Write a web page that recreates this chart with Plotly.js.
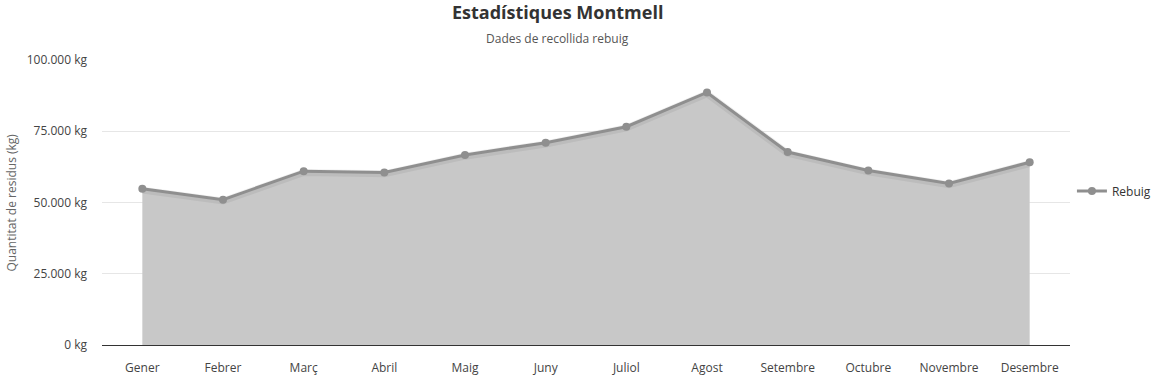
<!DOCTYPE html>
<html>
<head>
<meta charset="utf-8">
<script src="https://cdn.plot.ly/plotly-3.0.1.min.js"></script>
<style>html,body{margin:0;padding:0;background:#fff;}#chart{width:1158px;height:376px;}</style>
</head>
<body>
<div id="chart"></div>
<script>
const months = ["Gener","Febrer","Març","Abril","Maig","Juny","Juliol","Agost","Setembre","Octubre","Novembre","Desembre"];
const rebuig = [54800, 51000, 61000, 60500, 66700, 71000, 76600, 88600, 67700, 61200, 56700, 64100];
const yTickVals = [0, 25000, 50000, 75000, 100000];
const yTickText = ["0 kg", "25.000 kg", "50.000 kg", "75.000 kg", "100.000 kg"];

const font = "'Open Sans', 'Noto Sans', sans-serif";

const area = {
  x: months, y: rebuig, type: 'scatter', mode: 'none',
  fill: 'tozeroy', fillcolor: 'rgba(200,200,200,1)', hoverinfo: 'skip', showlegend: false
};
const shadow = {
  x: months, y: rebuig.map(v => v - 450), type: 'scatter', mode: 'lines',
  line: {color: 'rgba(0,0,0,0.06)', width: 7}, hoverinfo: 'skip', showlegend: false
};
const main = {
  x: months, y: rebuig, type: 'scatter', mode: 'lines+markers', name: 'Rebuig',
  line: {color: '#8f8f8f', width: 3},
  marker: {color: '#8f8f8f', size: 8}
};

const layout = {
  width: 1158, height: 376,
  margin: {l: 102, r: 88, t: 60, b: 31, autoexpand: false},
  paper_bgcolor: '#fff', plot_bgcolor: '#fff',
  font: {family: font, size: 12, color: '#444'},
  showlegend: true,
  legend: {x: 1.002, xanchor: 'left', y: 0.54, yanchor: 'middle', font: {size: 12, color: '#333'}, bgcolor: 'rgba(0,0,0,0)', itemwidth: 30},
  xaxis: {
    type: 'category', range: [-0.5, 11.5], showgrid: false, zeroline: false,
    showline: false, ticks: '', ticklabelstandoff: 14, tickfont: {size: 12, color: '#444'}, fixedrange: true
  },
  yaxis: {
    range: [0, 100000], tickvals: yTickVals, ticktext: yTickText,
    showgrid: true, gridcolor: '#e6e6e6', gridwidth: 1,
    zeroline: true, zerolinecolor: '#333', zerolinewidth: 1,
    showline: false, ticks: '', ticklabelstandoff: 14,
    tickfont: {size: 12, color: '#444'}, fixedrange: true
  },
  annotations: [
    {text: '<b>Estadístiques Montmell</b>', xref: 'paper', yref: 'paper', x: 0.471, y: 1.168,
     xanchor: 'center', yanchor: 'middle', showarrow: false, font: {size: 18, color: '#333', family: font}},
    {text: 'Dades de recollida rebuig', xref: 'paper', yref: 'paper', x: 0.471, y: 1.077,
     xanchor: 'center', yanchor: 'middle', showarrow: false, font: {size: 12, color: '#555', family: font}},
    {text: 'Quantitat de residus (kg)', xref: 'paper', yref: 'paper', x: -0.094, y: 0.5,
     xanchor: 'center', yanchor: 'middle', textangle: -90, showarrow: false, font: {size: 12, color: '#666', family: font}}
  ]
};

Plotly.newPlot('chart', [area, shadow, main], layout, {displayModeBar: false, staticPlot: true});
</script>
</body>
</html>
